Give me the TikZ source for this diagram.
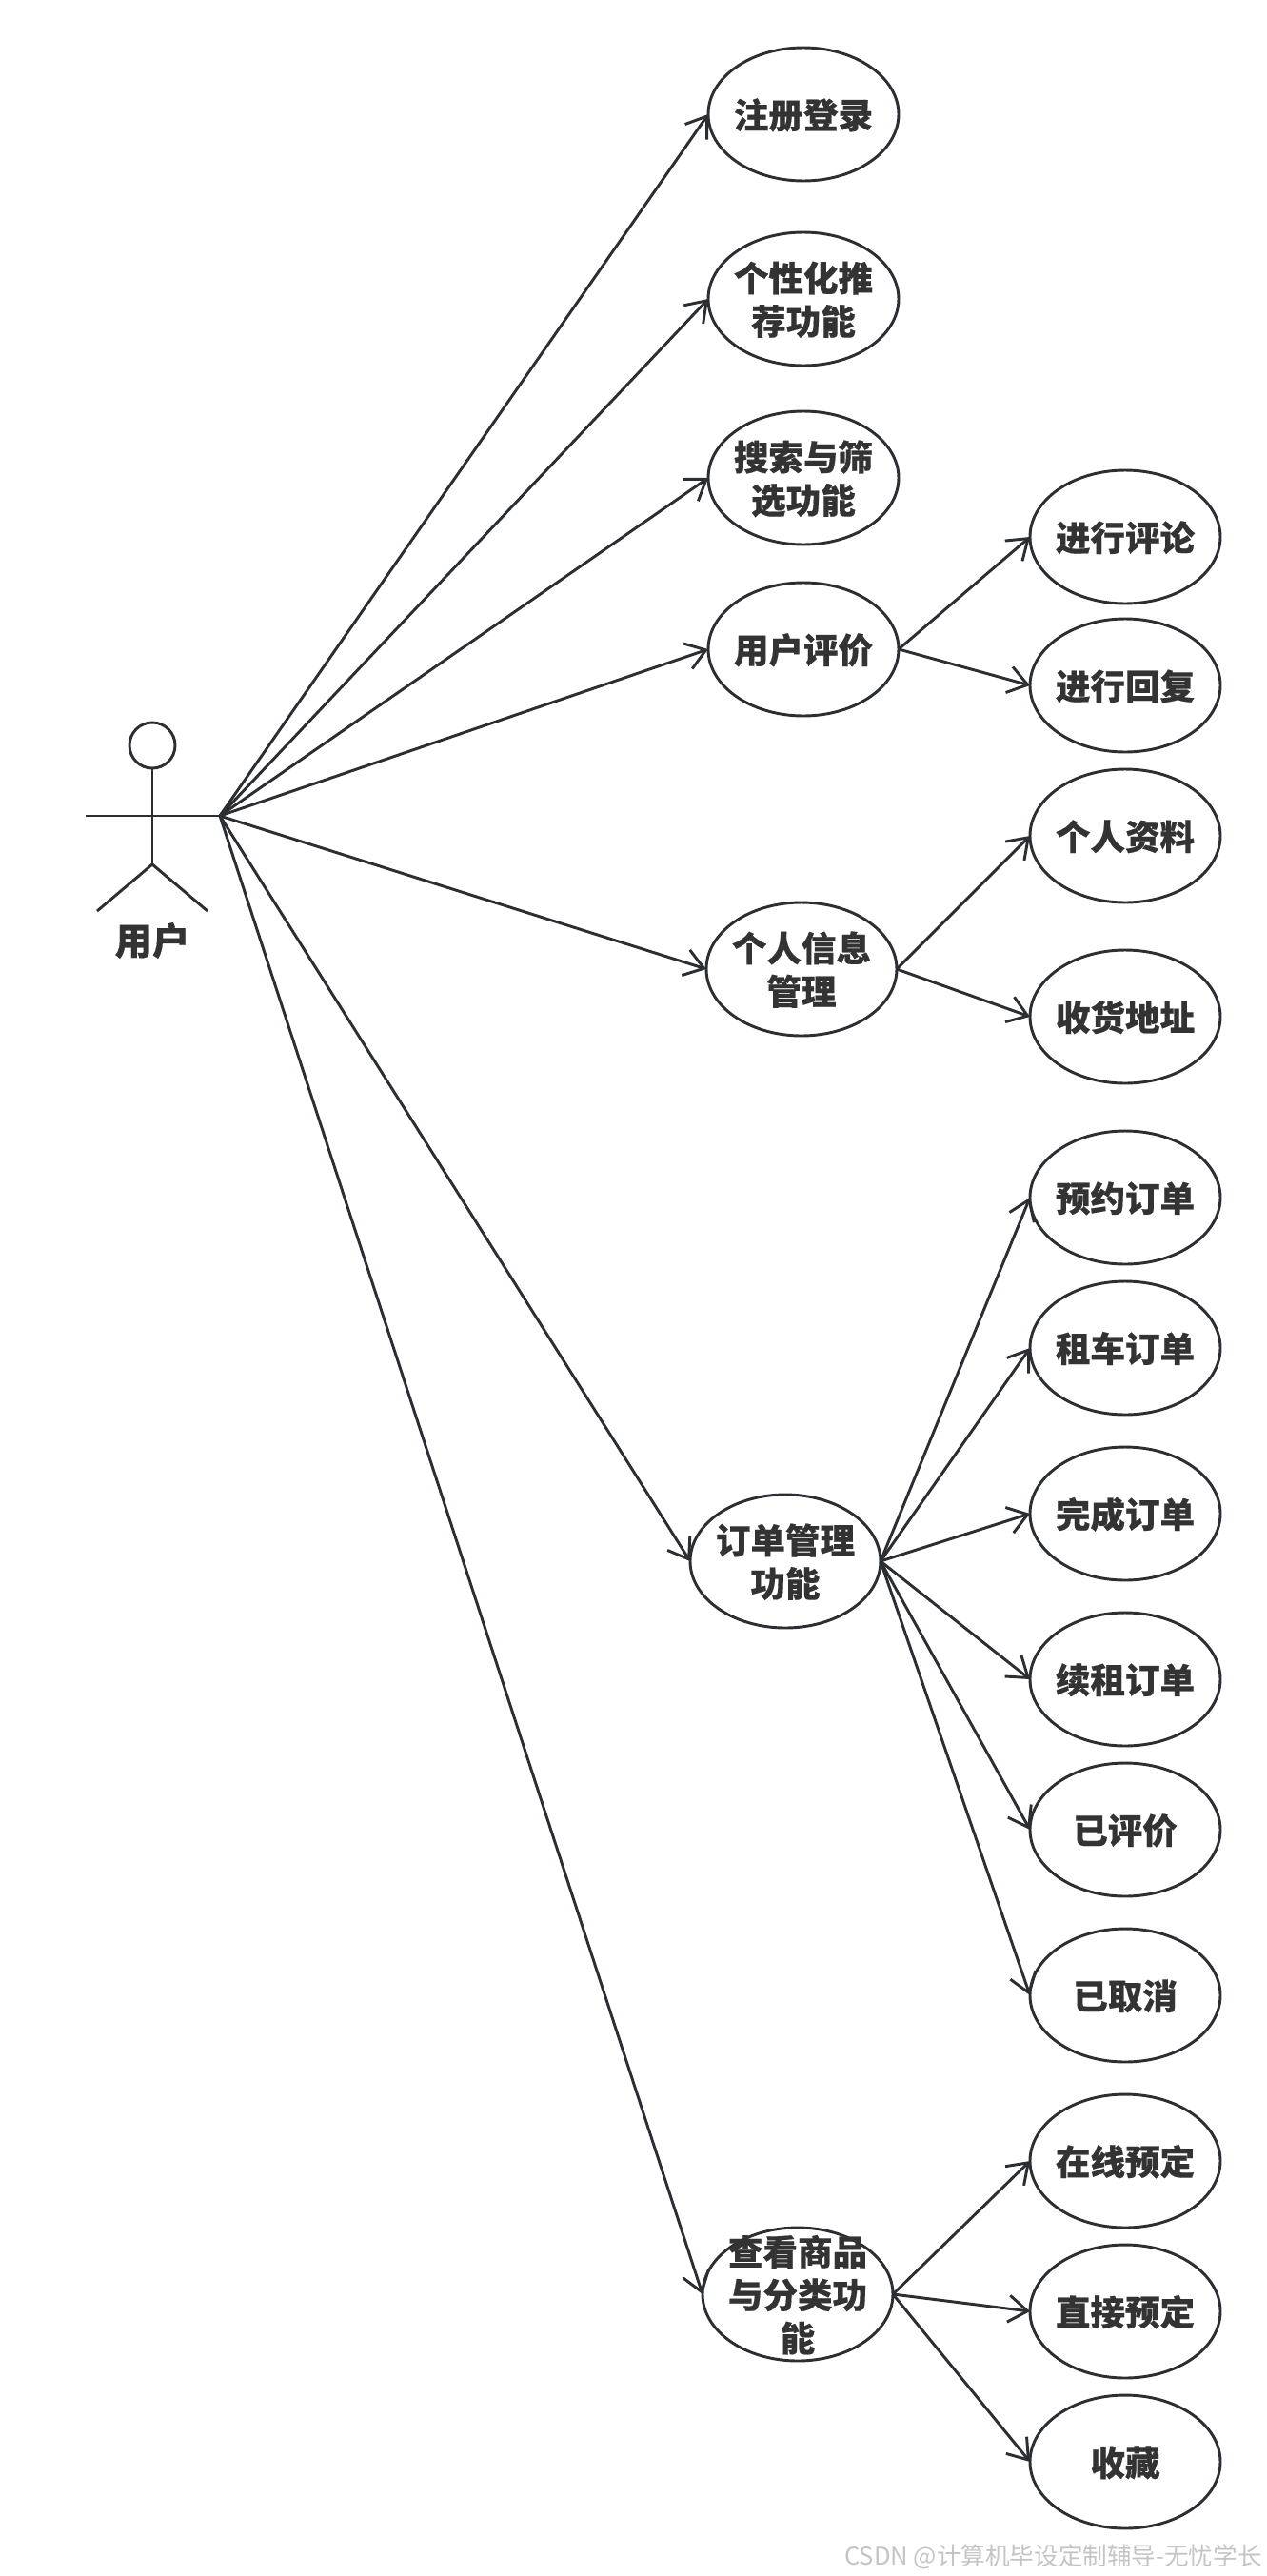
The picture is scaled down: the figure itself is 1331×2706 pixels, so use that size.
\documentclass[tikz,border=0pt]{standalone}
\usepackage{fontspec}
\setmainfont{Noto Sans CJK SC}[BoldFeatures={FakeBold=0.4}]
\usetikzlibrary{shapes.geometric,arrows.meta}
\definecolor{ln}{HTML}{2B2F33}
\definecolor{tx}{HTML}{333333}
\definecolor{wm}{HTML}{C4C4C4}
\newcommand{\lbl}[1]{\makebox[0pt]{\smash{\raisebox{-.38em}{\begin{tabular}[c]{@{}c@{}}#1\end{tabular}}}}}
\tikzset{
  x=0.75pt,y=-0.75pt,
  usecase/.style={draw=ln,line width=2.2pt,ellipse,fill=white,minimum width=150pt,minimum height=105pt,inner sep=0pt,outer sep=0pt,text=tx,
    font=\fontsize{27.4}{34}\selectfont\bfseries},
  link/.style={draw=ln,line width=2.2pt,-{Straight Barb[length=15pt,width=21pt,line width=2.2pt]}},
  body/.style={draw=ln,line width=2.2pt},
  actorname/.style={text=tx,inner sep=0pt,font=\fontsize{29.5}{34}\selectfont\bfseries},
  mark text/.style={text=wm,inner sep=0pt,anchor=east,font=\fontsize{19.2}{23}\selectfont}
}
\begin{document}
\begin{tikzpicture}
\useasboundingbox (0,0) rectangle (1331,2706);
% actor
\node[draw=ln,line width=2.2pt,circle,minimum size=36pt,inner sep=0pt] (head) at (160,783) {};
\coordinate (hip) at (160,908);
\coordinate (handL) at (90,857);
\coordinate (handR) at (231,857);
\coordinate (footL) at (102,957);
\coordinate (footR) at (218,957);
\draw[body] (head.south) -- (hip);
\draw[body] (handL) -- (handR);
\draw[body] (footL) -- (hip) -- (footR);
\node[actorname] (user) at (160,988) {用户};
% first level
\node[usecase] (a) at (844,120) {\lbl{注册登录}};
\node[usecase] (b) at (844,314) {\lbl{个性化推\\荐功能}};
\node[usecase] (c) at (844,502) {\lbl{搜索与筛\\选功能}};
\node[usecase] (d) at (844,682) {\lbl{用户评价}};
\node[usecase] (e) at (842,1018) {\lbl{个人信息\\管理}};
\node[usecase] (f) at (825,1640) {\lbl{订单管理\\功能}};
\node[usecase] (g) at (838,2410) {\lbl{查看商品\\与分类功\\能}};
% second level
\node[usecase] (d1) at (1182,564) {\lbl{进行评论}};
\node[usecase] (d2) at (1182,720) {\lbl{进行回复}};
\node[usecase] (e1) at (1182,878) {\lbl{个人资料}};
\node[usecase] (e2) at (1182,1068) {\lbl{收货地址}};
\node[usecase] (f1) at (1182,1258) {\lbl{预约订单}};
\node[usecase] (f2) at (1182,1416) {\lbl{租车订单}};
\node[usecase] (f3) at (1182,1590) {\lbl{完成订单}};
\node[usecase] (f4) at (1182,1764) {\lbl{续租订单}};
\node[usecase] (f5) at (1182,1922) {\lbl{已评价}};
\node[usecase] (f6) at (1182,2096) {\lbl{已取消}};
\node[usecase] (g1) at (1182,2270) {\lbl{在线预定}};
\node[usecase] (g2) at (1182,2428) {\lbl{直接预定}};
\node[usecase] (g3) at (1182,2586) {\lbl{收藏}};
% connectors
\foreach \t in {a,b,c,d,e,f,g} \draw[link] (handR) -- (\t.west);
\foreach \t in {d1,d2} \draw[link] (d.east) -- (\t.west);
\foreach \t in {e1,e2} \draw[link] (e.east) -- (\t.west);
\foreach \t in {f1,f2,f3,f4,f5,f6} \draw[link] (f.east) -- (\t.west);
\foreach \t in {g1,g2,g3} \draw[link] (g.east) -- (\t.west);
\node[mark text] (wm) at (1326,2686) {CSDN @计算机毕设定制辅导-无忧学长};
\end{tikzpicture}
\end{document}
